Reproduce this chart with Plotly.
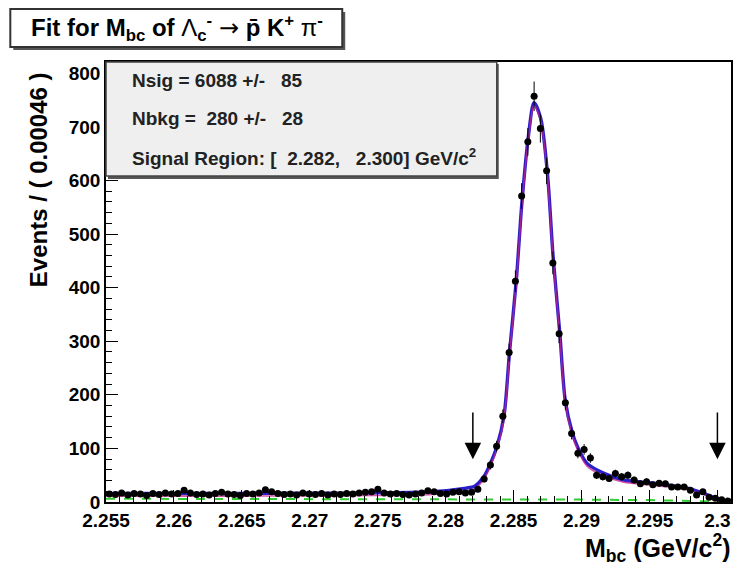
import plotly.graph_objects as go

# ---------------- data ----------------
bin_low = 2.255
bin_width = 0.00046
counts = [15, 14, 17, 13, 16, 15, 12, 16, 14, 17,
          15, 16, 22, 17, 14, 15, 13, 16, 18, 15,
          14, 12, 16, 15, 17, 23, 19, 16, 14, 15,
          13, 17, 15, 14, 16, 13, 15, 14, 16, 15,
          17, 18, 19, 24, 17, 15, 16, 14, 13, 15,
          17, 21, 19, 16, 15, 18, 19, 17,
          18, 24, 43, 69, 104, 160, 279, 412, 571, 672,
          757, 697, 618, 446, 314, 185, 128, 91, 98, 82,
          50, 47, 44, 53, 47, 50, 41, 34, 38, 32,
          35, 34, 28, 28, 28, 22, 13, 19, 9, 7,
          4, 2]

# total fit curve
fit_x = [2.2550, 2.2600, 2.2650, 2.2700, 2.2750, 2.2790, 2.2815, 2.2821, 2.2828,
         2.2833, 2.2838, 2.2843, 2.2847, 2.2852, 2.2856, 2.2861, 2.2865, 2.2870,
         2.2875, 2.2879, 2.2884, 2.2888, 2.2893, 2.2897, 2.2904, 2.2917, 2.2931,
         2.2953, 2.2978, 2.2990, 2.3002, 2.3010]
fit_y = [16, 16, 16, 16.5, 17, 19, 26, 29, 47,
         72, 106, 162, 280, 414, 555, 685, 745, 715,
         610, 460, 315, 190, 131, 103, 72, 53, 41,
         35, 26, 16, 4, 1]
# signal component
sig_y = [11, 11, 11, 11.5, 12, 14, 21, 24, 42,
         67, 101, 157, 275, 409, 550, 680, 740, 710,
         605, 455, 310, 185, 126, 98, 67, 48, 37,
         31, 23, 14, 3, 0.5]
# background component
bkg_x = [2.2550, 2.2650, 2.2750, 2.2800, 2.2850, 2.2900, 2.2950, 2.2980, 2.3000, 2.3010]
bkg_y = [6, 5.8, 5.5, 5.2, 5, 4.5, 3.5, 2.5, 0.8, 0]

signal_region = [2.282, 2.300]
x_ticks = [2.255, 2.26, 2.265, 2.27, 2.275, 2.28, 2.285, 2.29, 2.295, 2.3]
x_tick_text = ["2.255", "2.26", "2.265", "2.27", "2.275", "2.28", "2.285", "2.29", "2.295", "2.3"]
y_ticks = [0, 100, 200, 300, 400, 500, 600, 700, 800]

bin_centers = [bin_low + (i + 0.5) * bin_width for i in range(len(counts))]
errs = [c ** 0.5 for c in counts]

FONT = "Liberation Sans, Arial, sans-serif"

fig = go.Figure()
fig.add_trace(go.Scatter(x=bkg_x, y=bkg_y, mode="lines",
                         line=dict(color="#33cc33", width=2, dash="dash"), hoverinfo="skip"))
fig.add_trace(go.Scatter(x=fit_x, y=fit_y, mode="lines",
                         line=dict(color="#2a1fc8", width=3.4, shape="spline", smoothing=0.8),
                         hoverinfo="skip"))
fig.add_trace(go.Scatter(x=fit_x, y=sig_y, mode="lines",
                         line=dict(color="#c8208a", width=1.6, shape="spline", smoothing=0.8),
                         opacity=0.75, hoverinfo="skip"))
fig.add_trace(go.Scatter(x=bin_centers, y=counts, mode="markers",
                         marker=dict(color="black", size=7),
                         error_y=dict(type="data", array=errs, color="black", thickness=1, width=0),
                         error_x=dict(type="constant", value=bin_width / 2, color="black", thickness=1, width=0),
                         hoverinfo="skip"))

# plot-area geometry in pixels (for boxes placed in paper coords)
L, R, T, B = 106, 733, 62, 502
def px(x):
    return (x - L) / (R - L)
def py(y):
    return (B - y) / (B - T)

shapes = []
# title box with shadow
shapes.append(dict(type="rect", xref="paper", yref="paper", x0=px(13), x1=px(346), y0=py(50), y1=py(12),
                   fillcolor="#555555", line=dict(width=0), layer="above"))
shapes.append(dict(type="rect", xref="paper", yref="paper", x0=px(10), x1=px(343), y0=py(47), y1=py(9),
                   fillcolor="white", line=dict(color="#333333", width=2), layer="above"))
# stats box with shadow
shapes.append(dict(type="rect", xref="paper", yref="paper", x0=px(108), x1=px(500), y0=py(179), y1=py(64),
                   fillcolor="#555555", line=dict(width=0), layer="above"))
shapes.append(dict(type="rect", xref="paper", yref="paper", x0=px(106), x1=px(498), y0=py(176), y1=py(62),
                   fillcolor="#efefef", line=dict(color="#444444", width=1.5), layer="above"))

SYM = '<span style="font-weight:normal">'
title = ("Fit for M<sub>bc</sub> of " + SYM + "Λ</span><sub>c</sub><sup>-</sup> "
         '<span style="font-family:DejaVu Sans;font-weight:normal">→</span> p̄ K<sup>+</sup> '
         + SYM + "π</span><sup>-</sup>")

annotations = []
annotations.append(dict(xref="paper", yref="paper", x=px(177), y=py(28), xanchor="center", yanchor="middle",
                        text=title,
                        showarrow=False, font=dict(family=FONT, size=24, color="black", weight="bold")))
stats_lines = ["Nsig = 6088 +/-\u00a0\u00a0 85",
               "Nbkg =\u00a0 280 +/-\u00a0\u00a0 28",
               "Signal Region: [\u00a0 2.282,\u00a0\u00a0 2.300] GeV/c<sup>2</sup>"]
for line, ypx in zip(stats_lines, [80, 118, 157]):
    annotations.append(dict(xref="paper", yref="paper", x=px(130), y=py(ypx), xanchor="left", yanchor="middle",
                            text=line, showarrow=False,
                            font=dict(family=FONT, size=19, color="#222222", weight="bold")))
# axis titles
annotations.append(dict(xref="paper", yref="paper", x=px(38), y=py(180), xanchor="center", yanchor="middle",
                        text="Events / ( 0.00046 )", textangle=-90, showarrow=False,
                        font=dict(family=FONT, size=24, color="black", weight="bold")))
annotations.append(dict(xref="paper", yref="paper", x=px(734), y=py(548), xanchor="right", yanchor="middle",
                        text="M<sub>bc</sub> (GeV/c<sup>2</sup>)", showarrow=False,
                        font=dict(family=FONT, size=25, color="black", weight="bold")))
# signal-region arrows
for xr in signal_region:
    annotations.append(dict(x=xr, y=80, ax=xr, ay=170, xref="x", yref="y", axref="x", ayref="y",
                            showarrow=True, arrowhead=2, arrowsize=2.2, arrowwidth=1.5,
                            arrowcolor="black", text=""))

fig.update_layout(
    width=735, height=570,
    margin=dict(l=L, r=735 - R, t=T, b=570 - B),
    paper_bgcolor="white", plot_bgcolor="white",
    showlegend=False,
    shapes=shapes, annotations=annotations,
    font=dict(family=FONT, size=19, color="black"),
)
fig.update_xaxes(range=[2.255, 2.301], tickvals=x_ticks, ticktext=x_tick_text,
                 ticks="inside", ticklen=12, tickwidth=1.2, tickcolor="black",
                 minor=dict(dtick=0.001, tick0=2.255, ticks="inside", ticklen=6, tickcolor="black"),
                 showline=True, linecolor="black", linewidth=1.5, mirror=True,
                 showgrid=False, zeroline=False,
                 tickfont=dict(family=FONT, size=19, color="black", weight="bold"))
fig.update_yaxes(range=[0, 821], tickvals=y_ticks,
                 ticks="inside", ticklen=12, tickwidth=1.2, tickcolor="black",
                 minor=dict(dtick=20, ticks="inside", ticklen=6, tickcolor="black"),
                 showline=True, linecolor="black", linewidth=1.5, mirror=True,
                 showgrid=False, zeroline=False,
                 tickfont=dict(family=FONT, size=19, color="black", weight="bold"))

fig.write_html("out.html", config={"displayModeBar": False},
               post_script="document.body.style.margin='0';")
